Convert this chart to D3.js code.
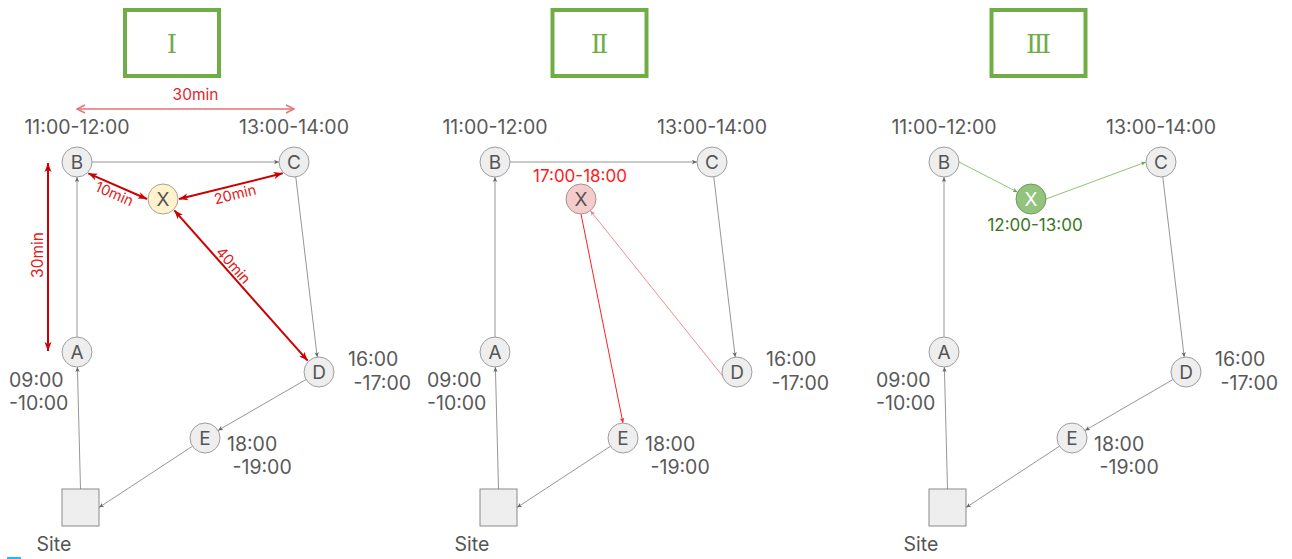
<!DOCTYPE html>
<html>
<head>
<meta charset="utf-8">
<title>route insertion</title>
<script src="https://cdn.jsdelivr.net/npm/d3@7"></script>
<style>
  body { margin: 0; background: #fff; }
  svg text { font-family: Inter, "Noto Sans", sans-serif; }
</style>
</head>
<body>
<div id="graphDiv"></div>
<script>
var width = 1292,
    height = 559;

// three scenarios
var panelNames = ["Ⅰ", "Ⅱ", "Ⅲ"],
    panelOriginX = [77, 495, 944],
    titleBoxX = [172, 599.5, 1038.5];

// stops of the tour (relative layout units, B = origin)
var stopIds = ["A", "B", "C", "D", "E"],
    stopDX = [0, 0, 217, 242, 128],
    stopDY = [190, 0, 0, 210, 276],
    siteDX = 3.5,
    siteDY = 345.5,
    newDX = [86, 86, 87],
    newDY = 37;

// time windows
var stopWindows = [["09:00", "-10:00"], ["11:00-12:00"], ["13:00-14:00"], ["16:00", " -17:00"], ["18:00", " -19:00"]],
    newWindows = [null, "17:00-18:00", "12:00-13:00"];

// travel times in panel I
var legPairs = [["B", "X"], ["X", "C"], ["X", "D"]],
    legTimes = ["10min", "20min", "40min"],
    spanTimes = ["30min", "30min"]; // B-C, A-B

// route of each scenario
var routes = [
    [["A", "B"], ["B", "C"], ["C", "D"], ["D", "E"], ["E", "Site"], ["Site", "A"]],
    [["A", "B"], ["B", "C"], ["C", "D"], ["D", "X"], ["X", "E"], ["E", "Site"], ["Site", "A"]],
    [["A", "B"], ["B", "X"], ["X", "C"], ["C", "D"], ["D", "E"], ["E", "Site"], ["Site", "A"]]
];

var nodeR = 15, siteSize = 37;

// where edges attach: [source port, target port]
var ports = {
    "A-B": ["t", "b"], "B-C": ["r", "l"], "C-D": ["c", "c"], "D-E": ["c", "c"],
    "E-Site": ["c", "r"], "Site-A": ["t", "c"], "D-X": [165, "c"], "X-E": ["b", "t"],
    "B-X": ["r", "c"], "X-C": ["r", "l"]
};
var legPorts = [[45, 180], [0, 135], [45, 225]];

var svg = d3.select("#graphDiv").append("svg")
    .attr("width", width)
    .attr("height", height);
var defs = svg.append("defs");

function addMarker(id, color, len, half, open) {
    var m = defs.append("marker")
        .attr("id", id)
        .attr("viewBox", (-2) + " " + (-half - 2) + " " + (len + 4) + " " + (2 * half + 4))
        .attr("refX", len).attr("refY", 0)
        .attr("markerWidth", len + 4).attr("markerHeight", 2 * half + 4)
        .attr("markerUnits", "userSpaceOnUse")
        .attr("orient", "auto-start-reverse");
    if (open) {
        m.append("path").attr("d", "M0," + (-half) + "L" + len + ",0L0," + half)
            .attr("fill", "none").attr("stroke", color).attr("stroke-width", 1.4);
    } else {
        m.append("path").attr("d", "M0," + (-half) + "L" + len + ",0L0," + half + "L" + (len * 0.25) + ",0Z")
            .attr("fill", color);
    }
}
addMarker("mGray", "#666", 5, 2.2);
addMarker("mRed", "#ff2020", 5, 2.2);
addMarker("mPink", "#f08080", 5, 2.2);
addMarker("mGreen", "#6aa84f", 5, 2.2);
addMarker("mDark", "#cc0000", 9, 3.5);
addMarker("mOpen", "#e57373", 8, 4, true);

var ys = d3.scaleLinear().domain([0, 350]).range([162, 512]);

function nodeOf(xs, p, id) {
    if (id === "X") return {x: xs(newDX[p]), y: ys(newDY), kind: "c"};
    if (id === "Site") return {x: xs(siteDX), y: ys(siteDY), kind: "s"};
    var i = stopIds.indexOf(id);
    return {x: xs(stopDX[i]), y: ys(stopDY[i]), kind: "c"};
}

function portPoint(n, port, extra) {
    var r = (n.kind === "s" ? siteSize / 2 : nodeR) + (extra || 0);
    if (typeof port === "number") {
        var a = port * Math.PI / 180;
        return {x: n.x + r * Math.cos(a), y: n.y + r * Math.sin(a)};
    }
    if (port === "t") return {x: n.x, y: n.y - r};
    if (port === "b") return {x: n.x, y: n.y + r};
    if (port === "l") return {x: n.x - r, y: n.y};
    if (port === "r") return {x: n.x + r, y: n.y};
    return null;
}

function clipToward(n, pt) {
    var dx = pt.x - n.x, dy = pt.y - n.y, d = Math.sqrt(dx * dx + dy * dy);
    var ux = dx / d, uy = dy / d, s;
    if (n.kind === "s") s = (siteSize / 2) / Math.max(Math.abs(ux), Math.abs(uy));
    else s = nodeR;
    return {x: n.x + ux * s, y: n.y + uy * s};
}

function edgeEnds(a, b, pa, pb, extra) {
    var p1 = portPoint(a, pa, extra), p2 = portPoint(b, pb, extra);
    if (!p1) p1 = clipToward(a, p2 || b);
    if (!p2) p2 = clipToward(b, p1);
    return [p1, p2];
}

function edgeStyle(p, key) {
    if (p === 1 && key === "D-X") return {c: "#f08080", w: 0.9, m: "mPink"};
    if (p === 1 && key === "X-E") return {c: "#ff2020", w: 1, m: "mRed"};
    if (p === 2 && (key === "B-X" || key === "X-C")) return {c: "#8cc472", w: 1, m: "mGreen"};
    return {c: "#8a8a8a", w: 0.9, m: "mGray"};
}

var newFill = ["#fff2cc", "#f4cccc", "#93c47d"],
    newStroke = ["#a8a290", "#a89090", "#6f9a5c"],
    newText = ["#555", "#555", "#fff"];

panelNames.forEach(function(name, p) {
    var ox = panelOriginX[p];
    var xs = d3.scaleLinear().domain([0, 250]).range([ox, ox + 250]);
    var g = svg.append("g");

    // title box
    g.append("rect")
        .attr("x", titleBoxX[p] - 47).attr("y", 10)
        .attr("width", 94).attr("height", 66)
        .attr("fill", "#fff").attr("stroke", "#70ad47").attr("stroke-width", 4);
    g.append("text")
        .attr("x", titleBoxX[p]).attr("y", 44)
        .attr("text-anchor", "middle").attr("dominant-baseline", "central")
        .style("font-family", "'DejaVu Serif', serif")
        .style("font-size", "26px").attr("fill", "#70ad47")
        .text(name);

    // route edges
    routes[p].forEach(function(e) {
        var key = e[0] + "-" + e[1];
        var a = nodeOf(xs, p, e[0]), b = nodeOf(xs, p, e[1]);
        var pts = edgeEnds(a, b, ports[key][0], ports[key][1]);
        var st = edgeStyle(p, key);
        g.append("line")
            .attr("x1", pts[0].x).attr("y1", pts[0].y)
            .attr("x2", pts[1].x).attr("y2", pts[1].y)
            .attr("stroke", st.c).attr("stroke-width", st.w)
            .attr("marker-end", "url(#" + st.m + ")");
    });

    // site
    var site = nodeOf(xs, p, "Site");
    g.append("rect")
        .attr("x", site.x - siteSize / 2).attr("y", site.y - siteSize / 2)
        .attr("width", siteSize).attr("height", siteSize)
        .attr("fill", "#eeeeee").attr("stroke", "#8a8a8a").attr("stroke-width", 1);
    g.append("text")
        .attr("x", site.x - 26.5).attr("y", site.y + 36)
        .attr("text-anchor", "middle").attr("dominant-baseline", "central")
        .style("font-size", "19.5px").attr("fill", "#555")
        .text("Site");

    // stops
    stopIds.forEach(function(id, i) {
        var n = nodeOf(xs, p, id);
        g.append("circle")
            .attr("cx", n.x).attr("cy", n.y).attr("r", nodeR)
            .attr("fill", "#eeeeee").attr("stroke", "#9e9e9e").attr("stroke-width", 1);
        g.append("text")
            .attr("x", n.x).attr("y", n.y + 0.5)
            .attr("text-anchor", "middle").attr("dominant-baseline", "central")
            .style("font-size", "19px").attr("fill", "#555")
            .text(id);
    });

    // time windows of the stops
    var winPos = [
        {dx: -68, dy: [28, 51], anchor: "start"},
        {dx: 0, dy: [-35], anchor: "middle"},
        {dx: 0, dy: [-35], anchor: "middle"},
        {dx: 29, dy: [-13, 11], anchor: "start"},
        {dx: 22, dy: [6, 29], anchor: "start"}
    ];
    stopIds.forEach(function(id, i) {
        var n = nodeOf(xs, p, id), wp = winPos[i];
        stopWindows[i].forEach(function(line, k) {
            g.append("text")
                .attr("x", n.x + wp.dx).attr("y", n.y + wp.dy[k])
                .attr("text-anchor", wp.anchor).attr("dominant-baseline", "central")
                .attr("xml:space", "preserve")
                .style("font-size", "19.5px").attr("fill", "#595959")
                .text(line);
        });
    });

    // new customer X
    var x = nodeOf(xs, p, "X");
    g.append("circle")
        .attr("cx", x.x).attr("cy", x.y).attr("r", nodeR)
        .attr("fill", newFill[p]).attr("stroke", newStroke[p]).attr("stroke-width", 1);
    g.append("text")
        .attr("x", x.x).attr("y", x.y + 0.5)
        .attr("text-anchor", "middle").attr("dominant-baseline", "central")
        .style("font-size", "19px").attr("fill", newText[p])
        .text("X");
    if (newWindows[p]) {
        g.append("text")
            .attr("x", p === 1 ? x.x - 1 : x.x + 4)
            .attr("y", p === 1 ? x.y - 23 : x.y + 26)
            .attr("text-anchor", "middle").attr("dominant-baseline", "central")
            .style("font-size", "17px")
            .attr("fill", p === 1 ? "#ff1a1a" : "#38761d")
            .text(newWindows[p]);
    }

    if (p !== 0) return;

    // panel I: travel times
    var bN = nodeOf(xs, p, "B"), cN = nodeOf(xs, p, "C"), aN = nodeOf(xs, p, "A");
    var hy = bN.y - 53;
    g.append("line")
        .attr("x1", bN.x).attr("y1", hy).attr("x2", cN.x).attr("y2", hy)
        .attr("stroke", "#e57373").attr("stroke-width", 1.4)
        .attr("marker-start", "url(#mOpen)").attr("marker-end", "url(#mOpen)");
    g.append("text")
        .attr("x", (bN.x + cN.x) / 2 + 10).attr("y", hy - 15)
        .attr("text-anchor", "middle").attr("dominant-baseline", "central")
        .style("font-size", "15.5px").attr("fill", "#e02828")
        .text(spanTimes[0]);

    var vx = bN.x - 29;
    g.append("line")
        .attr("x1", vx).attr("y1", bN.y + 1).attr("x2", vx).attr("y2", aN.y - 1)
        .attr("stroke", "#cc0000").attr("stroke-width", 2)
        .attr("marker-start", "url(#mDark)").attr("marker-end", "url(#mDark)");
    g.append("text")
        .attr("transform", "translate(" + (vx - 11) + "," + ((bN.y + aN.y) / 2 - 2) + ") rotate(-90)")
        .attr("text-anchor", "middle").attr("dominant-baseline", "central")
        .style("font-size", "15.5px").attr("fill", "#e02020")
        .text(spanTimes[1]);

    var labelPos = [{t: 0.5, off: 8}, {t: 0.52, off: 8.5}, {t: 0.4, off: -8}];
    legPairs.forEach(function(pair, i) {
        var a = nodeOf(xs, p, pair[0]), b = nodeOf(xs, p, pair[1]);
        var pts = edgeEnds(a, b, legPorts[i][0], legPorts[i][1], 1);
        g.append("line")
            .attr("x1", pts[0].x).attr("y1", pts[0].y)
            .attr("x2", pts[1].x).attr("y2", pts[1].y)
            .attr("stroke", "#cc0000").attr("stroke-width", 2)
            .attr("marker-start", "url(#mDark)").attr("marker-end", "url(#mDark)");
        var dx = pts[1].x - pts[0].x, dy = pts[1].y - pts[0].y;
        var len = Math.sqrt(dx * dx + dy * dy), ux = dx / len, uy = dy / len;
        var lp = labelPos[i];
        var cx = pts[0].x + dx * lp.t - uy * lp.off,
            cy = pts[0].y + dy * lp.t + ux * lp.off;
        var ang = Math.atan2(dy, dx) * 180 / Math.PI;
        g.append("text")
            .attr("transform", "translate(" + cx + "," + cy + ") rotate(" + ang + ")")
            .attr("text-anchor", "middle").attr("dominant-baseline", "central")
            .style("font-size", "14.5px").attr("fill", "#e02020")
            .text(legTimes[i]);
    });
});

// small blue mark at the bottom edge
svg.append("rect")
    .attr("x", 7).attr("y", 557).attr("width", 14).attr("height", 2)
    .attr("fill", "#29b6f6");
</script>
</body>
</html>
